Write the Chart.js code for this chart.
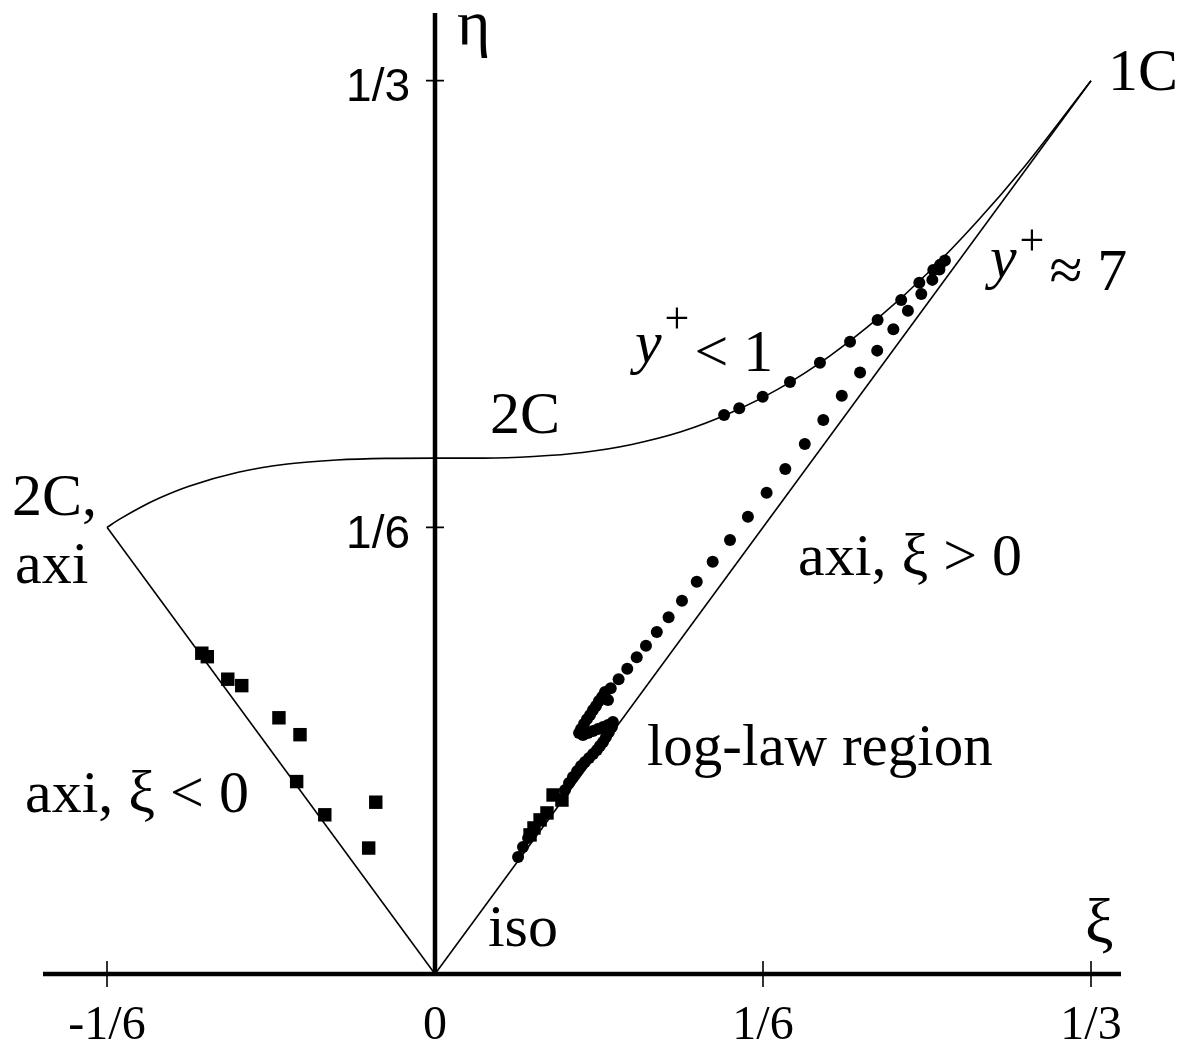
<!DOCTYPE html>
<html>
<head>
<meta charset="utf-8">
<script src="https://cdn.jsdelivr.net/npm/chart.js@4.4.1/dist/chart.umd.min.js"></script>
<style>
  html, body { margin: 0; padding: 0; background: #fff; }
  canvas { display: block; }
</style>
</head>
<body>
<canvas id="lumley" width="1184" height="1042"></canvas>
<script>
// Anisotropy invariant map: boundaries of the Lumley triangle + channel data

// triangle edges (axisymmetric limits)
const axiNegXi = [0, -1/6];
const axiNegEta = [0, 1/6];
const axiPosXi = [0, 1/3];
const axiPosEta = [0, 1/3];

// two-component limit, sampled along the upper edge
const twoCompXi = [-1/6, -0.16, -0.15, -0.14, -0.125, -0.1, -0.075, -0.05, -0.025, 0,
    0.025, 0.05, 0.075, 0.1, 0.125, 0.15, 0.175, 0.2, 0.225, 0.25, 0.275, 0.3, 1/3];
const twoCompEta = [1/6, 0.1698, 0.1740, 0.1776, 0.1820, 0.1872, 0.1903, 0.1918, 0.1924, 0.1925,
    0.1925, 0.1931, 0.1946, 0.1976, 0.2023, 0.2093, 0.2185, 0.2303, 0.2446, 0.2613, 0.2804, 0.3017, 1/3];

// circles: wall-normal profile (near wall -> log-law region)
const circleXi = [
    0.1469, 0.1546, 0.1665, 0.1804, 0.1956, 0.2109, 0.2249, 0.2369, 0.2461, 0.2532, 0.2566, 0.2591,
    0.2563, 0.2527, 0.2471, 0.2403, 0.2329, 0.2247, 0.2160, 0.2067, 0.1973, 0.1879, 0.1780, 0.1685,
    0.1590, 0.1499, 0.1411, 0.1330, 0.1255, 0.1187, 0.1127, 0.1072, 0.1025, 0.0977, 0.0933, 0.0893, 0.0859,
    0.0879, 0.0864, 0.0849, 0.0833, 0.0818, 0.0803, 0.0788, 0.0772, 0.0757, 0.0742, 0.0732,
    0.0752, 0.0777, 0.0803, 0.0828, 0.0854, 0.0879, 0.0904,
    0.0899, 0.0884, 0.0869, 0.0854, 0.0838, 0.0823, 0.0803, 0.0783, 0.0762, 0.0742, 0.0722, 0.0701, 0.0681, 0.0661,
    0.0473, 0.0447, 0.0422
];
const circleEta = [
    0.2086, 0.2111, 0.2154, 0.2209, 0.2281, 0.2359, 0.2440, 0.2515, 0.2579, 0.2627, 0.2646, 0.2662,
    0.2629, 0.2590, 0.2537, 0.2475, 0.2406, 0.2326, 0.2244, 0.2158, 0.2067, 0.1978, 0.1884, 0.1796,
    0.1706, 0.1619, 0.1538, 0.1464, 0.1393, 0.1331, 0.1276, 0.1225, 0.1182, 0.1139, 0.1100, 0.1066, 0.1041,
    0.1022, 0.1052, 0.1034, 0.1019, 0.1000, 0.0985, 0.0966, 0.0951, 0.0933, 0.0914, 0.0899,
    0.0892, 0.0899, 0.0907, 0.0914, 0.0922, 0.0929, 0.0940,
    0.0922, 0.0903, 0.0884, 0.0866, 0.0851, 0.0836, 0.0821, 0.0806, 0.0791, 0.0776, 0.0757, 0.0735, 0.0713, 0.0687,
    0.0507, 0.0474, 0.0437
];

// squares: second data set
const squareXi = [-0.1185, -0.1157, -0.1053, -0.0982, -0.0793, -0.0686, -0.0703, -0.0560, -0.0301, -0.0337,
    0.0600, 0.0645, 0.0569, 0.0534, 0.0503, 0.0483];
const squareEta = [0.1197, 0.1184, 0.1100, 0.1076, 0.0956, 0.0893, 0.0718, 0.0594, 0.0641, 0.0470,
    0.0668, 0.0649, 0.0601, 0.0575, 0.0545, 0.0519];

// axis ticks
const xTickValues = [-1/6, 0, 1/6, 1/3];
const xTickLabels = ['-1/6', '0', '1/6', '1/3'];
const yTickValues = [1/6, 1/3];
const yTickLabels = ['1/6', '1/3'];

// text placed on the map (data coords of left end / baseline)
const serif = '"Liberation Serif", "DejaVu Serif", serif';
const notes = [
    { parts: [['η', '64px ' + serif]], xi: 0.0112, eta: 0.3470 },
    { parts: [['1C', '60px ' + serif]], xi: 0.3420, eta: 0.3299 },
    { parts: [['y', 'italic 60px ' + serif, 0], ['+', '44px ' + serif, -22], ['≈ 7', '60px ' + serif, 13]], xi: 0.2820, eta: 0.2601 },
    { parts: [['y', 'italic 60px ' + serif, 0], ['+', '44px ' + serif, -29], ['< 1', '60px ' + serif, 9]], xi: 0.1016, eta: 0.2284 },
    { parts: [['2C', '60px ' + serif]], xi: 0.0279, eta: 0.2019 },
    { parts: [['2C,', '60px ' + serif]], xi: -0.2149, eta: 0.1713 },
    { parts: [['axi', '60px ' + serif]], xi: -0.2134, eta: 0.1459 },
    { parts: [['axi, ξ > 0', '60px ' + serif]], xi: 0.1845, eta: 0.1489 },
    { parts: [['axi, ξ < 0', '60px ' + serif]], xi: -0.2083, eta: 0.0604 },
    { parts: [['log-law region', '59px ' + serif]], xi: 0.1077, eta: 0.0780 },
    { parts: [['iso', '60px ' + serif]], xi: 0.0269, eta: 0.0104 },
    { parts: [['ξ', '64px ' + serif]], xi: 0.3303, eta: 0.0116 }
];

function toPoints(xs, ys) {
    return xs.map((v, i) => ({ x: v, y: ys[i] }));
}

function edge(xs, ys) {
    return {
        data: toPoints(xs, ys),
        showLine: true,
        borderColor: '#000',
        borderWidth: 1.6,
        pointRadius: 0,
        cubicInterpolationMode: 'monotone',
        clip: false
    };
}

// axes through the origin, tick marks, tick labels and annotations
const lumleyAxes = {
    id: 'lumleyAxes',
    afterDatasetsDraw(chart) {
        const { ctx, chartArea, scales: { x, y } } = chart;
        const x0 = x.getPixelForValue(0);
        const y0 = y.getPixelForValue(0);
        ctx.save();
        ctx.strokeStyle = '#000';
        ctx.fillStyle = '#000';

        ctx.lineWidth = 4.5;
        ctx.beginPath();
        ctx.moveTo(chartArea.left, y0);
        ctx.lineTo(chartArea.right, y0);
        ctx.moveTo(x0, y0);
        ctx.lineTo(x0, chartArea.top);
        ctx.stroke();

        ctx.lineWidth = 1.6;
        ctx.beginPath();
        xTickValues.forEach(v => {
            if (v === 0) return;
            const px = x.getPixelForValue(v);
            ctx.moveTo(px, y0 - 13);
            ctx.lineTo(px, y0 + 13);
        });
        yTickValues.forEach(v => {
            const py = y.getPixelForValue(v);
            ctx.moveTo(x0 - 9, py);
            ctx.lineTo(x0 + 9, py);
        });
        ctx.stroke();

        ctx.font = '48px ' + serif;
        ctx.textAlign = 'center';
        ctx.textBaseline = 'alphabetic';
        xTickValues.forEach((v, i) => {
            ctx.fillText(xTickLabels[i], x.getPixelForValue(v), y0 + 65);
        });

        ctx.font = '46px "Liberation Sans", Arial, sans-serif';
        ctx.textAlign = 'right';
        ctx.textBaseline = 'middle';
        yTickValues.forEach((v, i) => {
            ctx.fillText(yTickLabels[i], x0 - 25, y.getPixelForValue(v) + 8);
        });

        ctx.textAlign = 'left';
        ctx.textBaseline = 'alphabetic';
        notes.forEach(n => {
            let px = x.getPixelForValue(n.xi);
            const py = y.getPixelForValue(n.eta);
            n.parts.forEach(([txt, font, dy]) => {
                ctx.font = font;
                ctx.fillText(txt, px, py + (dy || 0));
                px += ctx.measureText(txt).width + (txt === 'y' ? 3 : 5);
            });
        });
        ctx.restore();
    }
};

new Chart(document.getElementById('lumley'), {
    type: 'scatter',
    data: {
        datasets: [
            edge(axiNegXi, axiNegEta),
            edge(axiPosXi, axiPosEta),
            edge(twoCompXi, twoCompEta),
            {
                data: toPoints(circleXi, circleEta),
                pointStyle: 'circle',
                pointRadius: 6,
                pointBorderWidth: 0,
                backgroundColor: '#000',
                borderColor: '#000',
                clip: false
            },
            {
                data: toPoints(squareXi, squareEta),
                pointStyle: 'rect',
                pointRadius: 9.5,
                pointBorderWidth: 0,
                backgroundColor: '#000',
                borderColor: '#000',
                clip: false
            }
        ]
    },
    options: {
        responsive: false,
        animation: false,
        layout: { padding: { left: 43, right: 63, top: 13, bottom: 68 } },
        plugins: {
            legend: { display: false },
            tooltip: { enabled: false }
        },
        scales: {
            x: { type: 'linear', min: -0.19919, max: 0.34858, display: false },
            y: { type: 'linear', min: 0, max: 0.35858, display: false }
        }
    },
    plugins: [lumleyAxes]
});
</script>
</body>
</html>
